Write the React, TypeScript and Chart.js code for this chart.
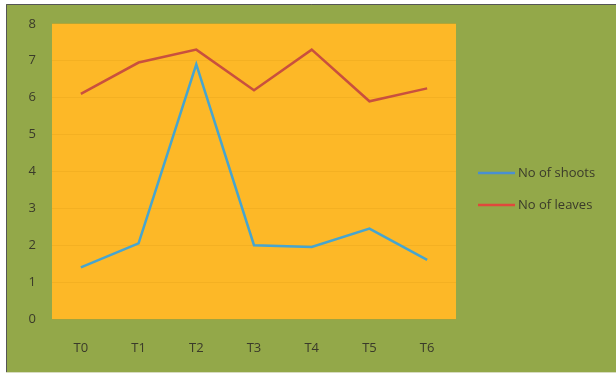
import React, { useEffect, useRef } from "react";
import { Chart, registerables } from "chart.js";

Chart.register(...registerables);

const categories = ["T0", "T1", "T2", "T3", "T4", "T5", "T6"];
const shoots = [1.4, 2.05, 6.9, 2.0, 1.95, 2.45, 1.6];
const leaves = [6.1, 6.95, 7.3, 6.2, 7.3, 5.9, 6.25];
const seriesLabels = ["No of shoots", "No of leaves"];
const seriesColors = ["#47A5CF", "#C9503E"];
const legendColors = ["#4A8FD0", "#E0483C"];

const OLIVE = "#93A849";
const ORANGE = "#FDB827";
const FONT = "'Open Sans', 'Liberation Sans', sans-serif";

export default function App() {
  const ref = useRef<HTMLCanvasElement | null>(null);

  useEffect(() => {
    if (!ref.current) return;
    const bgPlugin = {
      id: "bg",
      beforeDraw(chart: any) {
        const { ctx, chartArea, width } = chart;
        ctx.save();
        ctx.fillStyle = "#ffffff";
        ctx.fillRect(0, 0, width, chart.height);
        ctx.fillStyle = OLIVE;
        ctx.fillRect(6, 4, width - 6, 368);
        ctx.strokeStyle = "#555555";
        ctx.lineWidth = 1;
        ctx.beginPath();
        ctx.moveTo(6.5, 372);
        ctx.lineTo(6.5, 4.5);
        ctx.lineTo(width, 4.5);
        ctx.stroke();
        ctx.strokeStyle = "#d8dcc0";
        ctx.beginPath();
        ctx.moveTo(6, 372.5);
        ctx.lineTo(width, 372.5);
        ctx.stroke();
        ctx.fillStyle = ORANGE;
        ctx.fillRect(
          chartArea.left,
          chartArea.top,
          chartArea.right - chartArea.left,
          chartArea.bottom - chartArea.top
        );
        ctx.restore();
      },
      afterDraw(chart: any) {
        const { ctx } = chart;
        ctx.save();
        ctx.font = `13px ${FONT}`;
        ctx.textBaseline = "middle";
        ctx.textAlign = "left";
        const ys = [173, 205];
        chart.data.datasets.forEach((ds: any, i: number) => {
          const y = ys[i];
          ctx.strokeStyle = legendColors[i];
          ctx.lineWidth = 2.5;
          ctx.beginPath();
          ctx.moveTo(478, y);
          ctx.lineTo(515, y);
          ctx.stroke();
          ctx.fillStyle = "#3a3a2a";
          ctx.fillText(ds.label, 518, y);
        });
        ctx.restore();
      },
    };

    const chart = new Chart(ref.current, {
      type: "line",
      data: {
        labels: categories,
        datasets: [
          {
            label: seriesLabels[0],
            data: shoots,
            borderColor: seriesColors[0],
            backgroundColor: seriesColors[0],
            borderWidth: 2.5,
            pointRadius: 0,
            tension: 0,
          },
          {
            label: seriesLabels[1],
            data: leaves,
            borderColor: seriesColors[1],
            backgroundColor: seriesColors[1],
            borderWidth: 2.5,
            pointRadius: 0,
            tension: 0,
          },
        ],
      },
      options: {
        animation: false,
        responsive: false,
        devicePixelRatio: 1,
        layout: { padding: { left: 0, top: 22, right: 160, bottom: 0 } },
        plugins: {
          legend: { display: false },
          tooltip: { enabled: false },
        },
        scales: {
          x: {
            offset: true,
            grid: { display: false, drawTicks: false },
            border: { display: false },
            ticks: {
              padding: 21,
              color: "#3a3a2a",
              font: { family: FONT, size: 13 },
            },
            afterFit(scale: any) {
              scale.height = 57;
            },
          },
          y: {
            min: 0,
            max: 8,
            grid: { color: "rgba(215,150,20,0.22)", drawTicks: false },
            border: { display: false },
            ticks: {
              stepSize: 1,
              padding: 16,
              color: "#3a3a2a",
              font: { family: FONT, size: 13 },
            },
            afterFit(scale: any) {
              scale.width = 52;
            },
          },
        },
      },
      plugins: [bgPlugin],
    });
    return () => chart.destroy();
  }, []);

  return (
    <div style={{ position: "fixed", left: 0, top: 0, width: 616, height: 376 }}>
      <canvas ref={ref} width={616} height={376} style={{ display: "block" }} />
    </div>
  );
}
